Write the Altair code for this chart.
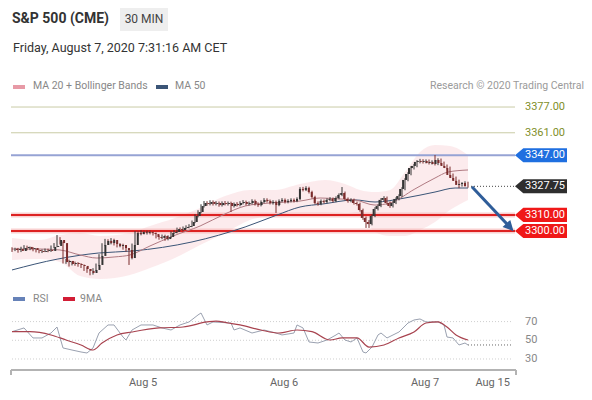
import altair as alt
import pandas as pd

# ---------------- data ----------------
opens = [3289.0, 3288.2, 3288.8, 3287.6, 3289.4, 3290.1, 3288.8, 3289.4, 3288.2, 3287.6,
         3287.0, 3287.6, 3288.2, 3287.6, 3290.1, 3290.7, 3294.4, 3292.5, 3280.7, 3281.4,
         3279.5, 3280.1, 3279.5, 3278.9, 3278.3, 3276.4, 3275.2, 3273.9, 3275.8, 3278.9,
         3284.5, 3291.3, 3293.8, 3292.5, 3294.4, 3291.9, 3290.7, 3291.3, 3289.4, 3288.2,
         3283.2, 3291.3, 3298.8, 3298.1, 3299.4, 3298.8, 3299.4, 3298.8, 3298.1, 3296.3,
         3295.7, 3296.9, 3295.0, 3296.3, 3298.8, 3299.4, 3301.2, 3300.6, 3301.9, 3302.5,
         3303.1, 3305.6, 3309.3, 3311.8, 3315.5, 3317.4, 3316.8, 3318.0, 3316.8, 3317.4,
         3316.1, 3317.4, 3316.8, 3317.4, 3315.5, 3316.8, 3316.1, 3317.4, 3318.0, 3316.8,
         3317.4, 3318.6, 3316.8, 3316.1, 3318.0, 3319.3, 3318.6, 3317.4, 3318.0, 3316.1,
         3318.6, 3319.3, 3318.0, 3318.6, 3319.3, 3318.6, 3319.9, 3326.1, 3325.5, 3326.7,
         3324.2, 3321.1, 3317.4, 3316.8, 3318.6, 3318.0, 3319.3, 3319.9, 3318.6, 3320.5,
         3322.4, 3323.6, 3319.9, 3318.6, 3319.3, 3317.4, 3316.8, 3313.0, 3308.1, 3305.6,
         3304.3, 3309.3, 3313.7, 3315.5, 3319.3, 3320.5, 3317.4, 3315.5, 3317.4, 3319.9,
         3321.7, 3326.1, 3331.7, 3335.4, 3339.1, 3340.4, 3342.9, 3343.5, 3342.9, 3343.5,
         3342.2, 3342.9, 3341.6, 3344.1, 3342.2, 3340.4, 3339.1, 3334.8, 3332.9, 3331.1,
         3328.6, 3329.2, 3329.8]
highs = [3289.9, 3289.6, 3289.5, 3290.2, 3291.2, 3290.9, 3290.3, 3290.0, 3289.0, 3288.4,
         3288.5, 3289.1, 3289.0, 3291.0, 3292.5, 3297.5, 3296.2, 3293.4, 3282.6, 3282.2,
         3281.3, 3281.0, 3280.6, 3280.0, 3279.2, 3277.5, 3276.3, 3276.9, 3279.8, 3285.6,
         3292.4, 3295.1, 3294.9, 3295.6, 3295.2, 3292.8, 3292.4, 3292.1, 3290.3, 3289.0,
         3292.2, 3299.9, 3299.9, 3300.4, 3300.3, 3300.2, 3300.4, 3299.7, 3299.0, 3297.2,
         3297.8, 3297.7, 3297.3, 3299.7, 3300.5, 3302.1, 3302.2, 3302.8, 3303.5, 3304.2,
         3306.5, 3310.4, 3312.9, 3316.6, 3318.6, 3318.5, 3319.1, 3319.0, 3318.5, 3318.3,
         3318.4, 3318.6, 3318.3, 3318.2, 3317.7, 3317.9, 3318.5, 3319.2, 3318.9, 3318.3,
         3319.7, 3319.5, 3317.8, 3319.0, 3320.4, 3320.3, 3319.5, 3319.1, 3318.9, 3319.6,
         3320.4, 3320.2, 3319.7, 3320.3, 3320.2, 3320.9, 3327.2, 3327.4, 3327.8, 3327.5,
         3325.0, 3321.9, 3318.4, 3319.6, 3319.5, 3320.3, 3321.0, 3320.8, 3321.5, 3323.4,
         3327.3, 3324.5, 3320.8, 3320.3, 3320.1, 3318.3, 3317.6, 3313.9, 3309.0, 3306.8,
         3310.3, 3314.8, 3316.5, 3320.4, 3321.6, 3321.4, 3318.3, 3318.5, 3320.9, 3322.8,
         3327.2, 3332.8, 3336.5, 3340.3, 3341.6, 3344.0, 3344.8, 3344.6, 3344.5, 3344.4,
         3343.9, 3347.2, 3345.2, 3345.0, 3343.1, 3341.3, 3340.0, 3335.7, 3333.8, 3331.9,
         3330.3, 3330.9, 3330.6]
lows = [3287.0, 3287.5, 3286.5, 3286.9, 3288.7, 3288.0, 3288.1, 3287.4, 3286.7, 3286.2,
        3286.3, 3286.9, 3286.8, 3287.0, 3289.3, 3290.0, 3291.6, 3279.8, 3279.6, 3277.9,
        3278.6, 3278.4, 3277.8, 3277.0, 3275.2, 3274.0, 3272.5, 3272.9, 3275.0, 3278.2,
        3283.9, 3290.6, 3291.4, 3291.7, 3291.0, 3289.8, 3289.9, 3288.4, 3287.1, 3278.9,
        3282.4, 3290.6, 3297.0, 3297.3, 3297.9, 3297.8, 3297.9, 3297.2, 3295.4, 3294.6,
        3294.9, 3293.9, 3294.2, 3295.5, 3298.0, 3298.6, 3299.8, 3299.9, 3301.0, 3301.7,
        3302.4, 3304.9, 3308.5, 3311.0, 3314.6, 3315.7, 3315.9, 3315.8, 3315.9, 3315.1,
        3315.2, 3315.9, 3315.8, 3311.8, 3314.6, 3315.2, 3315.3, 3316.5, 3315.8, 3315.9,
        3316.5, 3315.8, 3315.0, 3315.3, 3317.2, 3317.7, 3316.5, 3316.4, 3311.2, 3315.4,
        3317.8, 3317.1, 3317.2, 3317.8, 3317.7, 3317.9, 3319.2, 3324.6, 3324.8, 3323.3,
        3320.2, 3316.5, 3315.7, 3316.0, 3317.0, 3317.2, 3318.5, 3317.7, 3317.9, 3319.7,
        3321.6, 3319.0, 3317.6, 3317.8, 3316.4, 3315.8, 3312.0, 3306.9, 3301.9, 3301.9,
        3303.5, 3308.6, 3312.8, 3314.8, 3318.4, 3316.3, 3314.4, 3314.6, 3316.7, 3319.0,
        3321.0, 3325.3, 3330.9, 3334.6, 3338.2, 3339.6, 3342.0, 3341.9, 3342.0, 3341.3,
        3341.3, 3340.7, 3340.9, 3341.3, 3339.5, 3338.2, 3333.9, 3331.8, 3330.2, 3326.6,
        3327.6, 3328.7, 3326.9]
closes = [3288.2, 3288.8, 3287.6, 3289.4, 3290.1, 3288.8, 3289.4, 3288.2, 3287.6, 3287.0,
          3287.6, 3288.2, 3287.6, 3290.1, 3290.7, 3294.4, 3292.5, 3280.7, 3281.4, 3279.5,
          3280.1, 3279.5, 3278.9, 3278.3, 3276.4, 3275.2, 3273.9, 3275.8, 3278.9, 3284.5,
          3291.3, 3293.8, 3292.5, 3294.4, 3291.9, 3290.7, 3291.3, 3289.4, 3288.2, 3283.2,
          3291.3, 3298.8, 3298.1, 3299.4, 3298.8, 3299.4, 3298.8, 3298.1, 3296.3, 3295.7,
          3296.9, 3295.0, 3296.3, 3298.8, 3299.4, 3301.2, 3300.6, 3301.9, 3302.5, 3303.1,
          3305.6, 3309.3, 3311.8, 3315.5, 3317.4, 3316.8, 3318.0, 3316.8, 3317.4, 3316.1,
          3317.4, 3316.8, 3317.4, 3315.5, 3316.8, 3316.1, 3317.4, 3318.0, 3316.8, 3317.4,
          3318.6, 3316.8, 3316.1, 3318.0, 3319.3, 3318.6, 3317.4, 3318.0, 3316.1, 3318.6,
          3319.3, 3318.0, 3318.6, 3319.3, 3318.6, 3319.9, 3326.1, 3325.5, 3326.7, 3324.2,
          3321.1, 3317.4, 3316.8, 3318.6, 3318.0, 3319.3, 3319.9, 3318.6, 3320.5, 3322.4,
          3323.6, 3319.9, 3318.6, 3319.3, 3317.4, 3316.8, 3313.0, 3308.1, 3305.6, 3304.3,
          3309.3, 3313.7, 3315.5, 3319.3, 3320.5, 3317.4, 3315.5, 3317.4, 3319.9, 3321.7,
          3326.1, 3331.7, 3335.4, 3339.1, 3340.4, 3342.9, 3343.5, 3342.9, 3343.5, 3342.2,
          3342.9, 3341.6, 3344.1, 3342.2, 3340.4, 3339.1, 3334.8, 3332.9, 3331.1, 3328.6,
          3329.2, 3329.8, 3327.75]

ma20_idx = [0, 9.3, 16, 22.7, 28.3, 34.3, 39.3, 46, 53.7, 62.7, 71, 77.7, 86, 96, 102.7,
            109.3, 114.3, 121, 126, 134.3, 141, 145.3, 152]
ma20_val = [3288.8, 3288.8, 3288.2, 3285.1, 3283.2, 3283.9, 3285.1, 3290.7, 3296.9, 3303.1,
            3310.6, 3315.5, 3317.4, 3318.6, 3320.5, 3319.9, 3319.3, 3316.1, 3317.4, 3326.1,
            3332.9, 3336.6, 3337.9]
ma50_idx = [0, 15.3, 28.7, 40.3, 60, 77.7, 88.3, 96, 103.7, 114.3, 121, 131, 141, 147.7, 152]
ma50_val = [3275.8, 3282.6, 3286.3, 3287.6, 3293.2, 3302.5, 3309.9, 3314.9, 3316.8, 3319.3,
            3318.0, 3320.5, 3324.2, 3326.7, 3326.7]
bb_idx = [0, 9.3, 16, 22.7, 29.3, 39.3, 46, 54.3, 62.7, 71, 79.3, 87.7, 96, 104.3, 111,
          116, 121, 126, 131, 136, 141, 146, 152]
bb_upper = [3295.7, 3294.4, 3297.5, 3298.8, 3296.9, 3298.8, 3303.1, 3308.1, 3314.3, 3321.7,
            3325.5, 3325.5, 3329.2, 3331.7, 3329.2, 3325.5, 3324.2, 3325.5, 3336.6, 3349.1,
            3353.4, 3352.8, 3347.2]
bb_lower = [3282.0, 3282.6, 3280.7, 3272.0, 3270.2, 3272.7, 3277.0, 3283.2, 3291.3, 3298.8,
            3306.8, 3309.9, 3311.2, 3311.2, 3311.8, 3310.6, 3299.4, 3296.9, 3296.9, 3300.6,
            3305.6, 3313.0, 3319.3]

level_values = [3377.00, 3361.00, 3347.00, 3327.75, 3310.00, 3300.00]
level_labels = ["3377.00", "3361.00", "3347.00", "3327.75", "3310.00", "3300.00"]
level_kinds = ["target", "target", "resistance", "last", "support", "support"]

arrow_idx = [153.3, 166.0]
arrow_val = [3327.5, 3302.3]

rsi_idx = [0, 4, 7, 10, 13, 15, 17, 20, 23, 25, 27, 29, 32, 34, 37, 38, 40, 43, 47, 50,
           53, 56, 59, 62, 63, 65, 67, 73, 74, 76, 80, 84, 88, 90, 94, 95, 97, 99, 102, 105,
           108, 109, 111, 113, 115, 117, 118, 120, 122, 123, 125, 127, 129, 132, 134, 136,
           138, 142, 144, 145, 147, 149, 151, 152]
rsi_val = [59.2, 63.2, 52.5, 52.5, 57.8, 64.2, 41.8, 39.6, 37.5, 36.4, 41.8, 57.8, 66.4,
           66.4, 53.5, 50.3, 61.0, 66.4, 66.4, 63.2, 61.0, 66.4, 69.6, 77.1, 79.2, 66.4,
           69.6, 68.5, 61.0, 63.2, 57.8, 61.0, 57.8, 55.7, 57.8, 66.4, 63.2, 48.2, 47.1,
           50.3, 55.7, 57.8, 50.3, 48.2, 52.5, 37.5, 36.4, 42.8, 55.7, 57.8, 52.5, 55.7,
           58.9, 68.5, 71.7, 72.8, 69.6, 69.6, 66.4, 53.5, 52.5, 45.0, 47.1, 45.0]
ma9_idx = [0, 6, 13, 18, 23, 27, 30, 35, 40, 49, 57, 65, 68, 72, 76, 83, 89, 95, 100, 106,
           110, 115, 119, 124, 129, 134, 138, 142, 145, 148, 152]
ma9_val = [59.2, 59.2, 55.7, 50.3, 45.0, 39.6, 47.1, 55.7, 58.9, 63.2, 64.2, 69.6, 70.6,
           68.5, 66.4, 61.0, 57.8, 61.0, 59.2, 50.3, 52.5, 52.5, 42.8, 45.0, 52.5, 58.9,
           68.5, 69.6, 64.2, 55.7, 50.3]
rsi_levels = [70, 50, 30]

tick_idx = [43.7, 90.7, 137.7, 160.2]
tick_labels = ["Aug 5", "Aug 6", "Aug 7", "Aug 15"]

# ---------------- tables ----------------
bars = pd.DataFrame({"i": list(range(len(closes))), "open": opens, "high": highs,
                     "low": lows, "close": closes})
bars["dir"] = ["up" if c >= o else "down" for o, c in zip(opens, closes)]
ma20 = pd.DataFrame({"i": ma20_idx, "v": ma20_val})
ma50 = pd.DataFrame({"i": ma50_idx, "v": ma50_val})
bb = pd.DataFrame({"i": bb_idx, "up": bb_upper, "lo": bb_lower})
levels = pd.DataFrame({"v": level_values, "label": level_labels, "kind": level_kinds})
arrow = pd.DataFrame({"i": arrow_idx, "v": arrow_val})
rsi = pd.DataFrame({"i": rsi_idx, "v": rsi_val})
ma9 = pd.DataFrame({"i": ma9_idx, "v": ma9_val})
rlev = pd.DataFrame({"v": rsi_levels, "label": [str(v) for v in rsi_levels]})
ticks = pd.DataFrame({"i": tick_idx, "label": tick_labels})

FONT = "Roboto"
XS = alt.Scale(domain=[-4 / 3, 190 + 2 / 3])
PS = alt.Scale(domain=[3200, 3438.5])
RS = alt.Scale(domain=[-5.3, 405.4])


def X(f):
    return alt.X(f, type="quantitative", scale=XS, axis=None)


def YP(f):
    return alt.Y(f, type="quantitative", scale=PS, axis=None)


def YR(f):
    return alt.Y(f, type="quantitative", scale=RS, axis=None)


def one(text):
    return pd.DataFrame({"t": [text]})


layers = []

# Bollinger band + moving averages
layers.append(alt.Chart(bb).mark_area(color="#f7cfd3", opacity=0.42, interpolate="monotone")
              .encode(x=X("i"), y=YP("up"), y2="lo"))


def lev(kind_list):
    return levels[levels["kind"].isin(kind_list)]


# level lines
layers.append(alt.Chart(lev(["target"])).mark_rule(color="#c9cba6", strokeWidth=1)
              .encode(x=alt.value(3), x2=alt.value(507), y=YP("v")))
layers.append(alt.Chart(lev(["resistance"])).mark_rule(color="#96a3d4", strokeWidth=2)
              .encode(x=alt.value(3), x2=alt.value(507), y=YP("v")))
layers.append(alt.Chart(lev(["support"])).mark_rule(color="#f5b3b3", strokeWidth=5, opacity=0.6)
              .encode(x=alt.value(3), x2=alt.value(507), y=YP("v")))
layers.append(alt.Chart(lev(["support"])).mark_rule(color="#dd2222", strokeWidth=2)
              .encode(x=alt.value(3), x2=alt.value(507), y=YP("v")))
layers.append(alt.Chart(lev(["last"])).mark_rule(color="#444444", strokeWidth=1, strokeDash=[1, 2])
              .encode(x=alt.value(463), x2=alt.value(507), y=YP("v")))

layers.append(alt.Chart(ma50).mark_line(color="#3b5577", strokeWidth=1, interpolate="monotone")
              .encode(x=X("i"), y=YP("v")))
layers.append(alt.Chart(ma20).mark_line(color="#b07a82", strokeWidth=1, interpolate="monotone")
              .encode(x=X("i"), y=YP("v")))

# candles
ccol = alt.Color("dir:N", scale=alt.Scale(domain=["up", "down"], range=["#333333", "#7a2b2b"]),
                 legend=None)
layers.append(alt.Chart(bars).mark_rule(strokeWidth=1).encode(x=X("i"), y=YP("low"), y2="high", color=ccol))
layers.append(alt.Chart(bars).mark_bar(width=2).encode(x=X("i"), y=YP("open"), y2="close", color=ccol))

# forecast arrow
layers.append(alt.Chart(arrow).mark_line(color="#2f5d99", strokeWidth=3)
              .encode(x=X("i"), y=YP("v")))
layers.append(alt.Chart(arrow.tail(1)).mark_point(shape="M1,0L-1,-1L-1,1Z", filled=True, size=110,
                                                  color="#2f5d99", angle=47, opacity=1)
              .encode(x=X("i"), y=YP("v")))

# price tags
TAG = "M-1,0L-0.68,-0.27L1,-0.27L1,0.27L-0.68,0.27Z"
tcol = alt.Color("kind:N", scale=alt.Scale(domain=["resistance", "last", "support"],
                                           range=["#1f6fe0", "#2e2e2e", "#f01818"]), legend=None)
tags = levels[levels["kind"] != "target"]
layers.append(alt.Chart(tags).mark_point(shape=TAG, filled=True, size=52 * 52, opacity=1, strokeWidth=0)
              .encode(x=alt.value(533), y=YP("v"), color=tcol))
layers.append(alt.Chart(tags).mark_text(align="left", baseline="middle", fontSize=11, font=FONT, color="white")
              .encode(x=alt.value(517), y=YP("v"), text="label"))
layers.append(alt.Chart(lev(["target"])).mark_text(align="left", baseline="middle", fontSize=11, font=FONT,
                                                   color="#7f8f2a")
              .encode(x=alt.value(517), y=YP("v"), text="label"))

# RSI panel
layers.append(alt.Chart(rlev).mark_rule(color="#cfcfcf", strokeWidth=1, strokeDash=[1, 2])
              .encode(x=alt.value(4), x2=alt.value(505), y=YR("v")))
layers.append(alt.Chart(rlev).mark_text(align="left", baseline="middle", fontSize=11, font=FONT, color="#888888")
              .encode(x=alt.value(517), y=YR("v"), text="label"))
layers.append(alt.Chart(rsi.tail(1)).mark_rule(color="#666666", strokeWidth=1, strokeDash=[1, 2])
              .encode(x=alt.value(460), x2=alt.value(505), y=YR("v")))
layers.append(alt.Chart(rsi).mark_line(color="#9aa1b0", strokeWidth=1)
              .encode(x=X("i"), y=YR("v")))
layers.append(alt.Chart(ma9).mark_line(color="#a8434f", strokeWidth=1.2, interpolate="monotone")
              .encode(x=X("i"), y=YR("v")))

# time axis
layers.append(alt.Chart(one("")).mark_rule(color="#b3b3b3", strokeWidth=2)
              .encode(x=alt.value(3), x2=alt.value(508), y=alt.value(362)))
layers.append(alt.Chart(pd.DataFrame({"p": [3, 508]})).mark_rule(color="#b3b3b3", strokeWidth=2)
              .encode(x=alt.X("p:Q", scale=None), y=alt.value(362), y2=alt.value(367)))
layers.append(alt.Chart(ticks).mark_text(align="center", baseline="middle", fontSize=11, font=FONT,
                                         color="#666666")
              .encode(x=X("i"), y=alt.value(375), text="label"))

# header
layers.append(alt.Chart(one("")).mark_rect(color="#eeeeee")
              .encode(x=alt.value(112), x2=alt.value(160), y=alt.value(0), y2=alt.value(23)))
layers.append(alt.Chart(one("S&P 500 (CME)")).mark_text(align="left", baseline="middle", fontSize=14,
                                                       fontWeight="bold", font=FONT, color="#333333")
              .encode(x=alt.value(4), y=alt.value(11), text="t"))
layers.append(alt.Chart(one("30 MIN")).mark_text(align="center", baseline="middle", fontSize=12,
                                                font=FONT, color="#444444")
              .encode(x=alt.value(136), y=alt.value(11), text="t"))
layers.append(alt.Chart(one("Friday, August 7, 2020 7:31:16 AM CET")).mark_text(
    align="left", baseline="middle", fontSize=12.5, font=FONT, color="#333333")
              .encode(x=alt.value(5), y=alt.value(40), text="t"))

# legends
sw = pd.DataFrame({"x": [5, 148, 5, 55], "x2": [17, 160, 17, 67], "y": [77, 77, 289, 289],
                   "k": ["ma20", "ma50", "rsi", "ma9"]})
swc = alt.Color("k:N", scale=alt.Scale(domain=["ma20", "ma50", "rsi", "ma9"],
                                       range=["#e79aa6", "#3b5577", "#6682b8", "#d21d35"]), legend=None)
layers.append(alt.Chart(sw).mark_rect().encode(
    x=alt.X("x:Q", scale=None), x2="x2:Q", y=alt.Y("y:Q", scale=None),
    y2=alt.Y2("y2:Q"), color=swc).transform_calculate(y2="datum.y + 4"))
leg = pd.DataFrame({"x": [25, 167, 25, 72], "y": [78, 78, 291, 291],
                    "t": ["MA 20 + Bollinger Bands", "MA 50", "RSI", "9MA"]})
layers.append(alt.Chart(leg).mark_text(align="left", baseline="middle", fontSize=10.5, font=FONT,
                                       color="#888888")
              .encode(x=alt.X("x:Q", scale=None), y=alt.Y("y:Q", scale=None), text="t"))
layers.append(alt.Chart(one("Research \u00a9 2020 Trading Central")).mark_text(
    align="right", baseline="middle", fontSize=10.5, font=FONT, color="#9a9a9a")
              .encode(x=alt.value(576), y=alt.value(78), text="t"))

chart = (alt.layer(*layers)
         .resolve_scale(y="independent", color="independent", x="independent")
         .properties(width=576, height=384, padding=0,
                     autosize=alt.AutoSizeParams(type="none"))
         .configure_view(stroke=None))

chart.save("out.html", embed_options={"renderer": "svg", "actions": False})
